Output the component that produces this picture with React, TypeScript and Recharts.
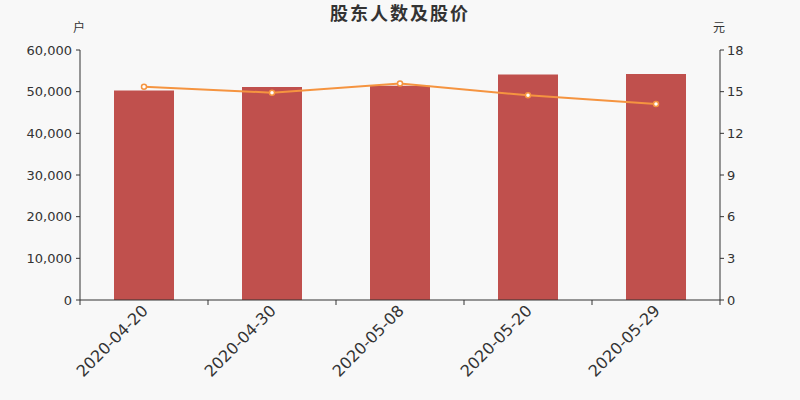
import React from "react";
import {
  ComposedChart,
  Bar,
  Line,
  XAxis,
  YAxis,
} from "recharts";

const dates = ["2020-04-20", "2020-04-30", "2020-05-08", "2020-05-20", "2020-05-29"];
const holders = [50300, 51100, 51400, 54150, 54250];
const prices = [15.36, 14.93, 15.58, 14.74, 14.11];
const leftTicks = [0, 10000, 20000, 30000, 40000, 50000, 60000];
const rightTicks = [0, 3, 6, 9, 12, 15, 18];

const data = dates.map((d, i) => ({ date: d, holders: holders[i], price: prices[i] }));

const W = 800;
const H = 400;
const PLOT_LEFT = 80;
const PLOT_RIGHT = 720;
const BAND = (PLOT_RIGHT - PLOT_LEFT) / dates.length;
const TEXT = "#333";
const FONT = "DejaVu Sans, sans-serif";

// 类目轴刻度线画在类目边界上，标签旋转 45°
function DateTick(props: any) {
  const { x, y, payload, index } = props;
  const axisY = y - 8;
  return (
    <g>
      <line x1={x - BAND / 2} y1={axisY} x2={x - BAND / 2} y2={axisY + 5} stroke={TEXT} />
      {index === dates.length - 1 && (
        <line x1={x + BAND / 2} y1={axisY} x2={x + BAND / 2} y2={axisY + 5} stroke={TEXT} />
      )}
      <text
        x={x + 1}
        y={y}
        transform={`rotate(-45, ${x + 1}, ${y})`}
        textAnchor="end"
        dominantBaseline="central"
        fontSize={16}
        fontFamily={FONT}
        fill={TEXT}
      >
        {payload.value}
      </text>
    </g>
  );
}

export default function App() {
  return (
    <div style={{ position: "absolute", left: 0, top: 0, width: W, height: H, background: "#f8f8f8" }}>
      <div
        style={{
          position: "absolute",
          top: 3,
          left: 0,
          width: W,
          textAlign: "center",
          fontSize: 18,
          lineHeight: "18px",
          fontWeight: "bold",
          letterSpacing: 2,
          color: TEXT,
          fontFamily: "Noto Sans CJK SC, sans-serif",
        }}
      >
        股东人数及股价
      </div>
      <div style={{ position: "absolute", top: 20, left: 73, fontSize: 12, lineHeight: "14px", color: TEXT, fontFamily: "Noto Sans CJK SC, sans-serif" }}>
        户
      </div>
      <div style={{ position: "absolute", top: 20, left: 713, fontSize: 12, lineHeight: "14px", color: TEXT, fontFamily: "Noto Sans CJK SC, sans-serif" }}>
        元
      </div>
      <ComposedChart
        width={W}
        height={H}
        data={data}
        margin={{ top: 50, right: 20, left: 20, bottom: 20 }}
        barCategoryGap={0}
      >
        <XAxis
          dataKey="date"
          interval={0}
          height={80}
          tickLine={false}
          tickSize={5}
          tickMargin={3}
          axisLine={{ stroke: TEXT }}
          tick={<DateTick />}
        />
        <YAxis
          yAxisId="left"
          width={60}
          domain={[0, 60000]}
          ticks={leftTicks}
          tickFormatter={(v: number) => v.toLocaleString("en-US")}
          axisLine={{ stroke: TEXT }}
          tickLine={{ stroke: TEXT }}
          tickSize={4}
          tickMargin={4}
          tick={{ fill: TEXT, fontSize: 13, fontFamily: FONT }}
        />
        <YAxis
          yAxisId="right"
          orientation="right"
          width={60}
          domain={[0, 18]}
          ticks={rightTicks}
          axisLine={{ stroke: TEXT }}
          tickLine={{ stroke: TEXT }}
          tickSize={4}
          tickMargin={3}
          tick={{ fill: TEXT, fontSize: 13, fontFamily: FONT }}
        />
        <Bar yAxisId="left" dataKey="holders" fill="#c0504d" barSize={60} isAnimationActive={false} />
        <Line
          yAxisId="right"
          dataKey="price"
          type="linear"
          stroke="#f59440"
          strokeWidth={2}
          dot={{ r: 2.5, fill: "#fff", stroke: "#f59440", strokeWidth: 1.5 }}
          isAnimationActive={false}
        />
      </ComposedChart>
    </div>
  );
}
